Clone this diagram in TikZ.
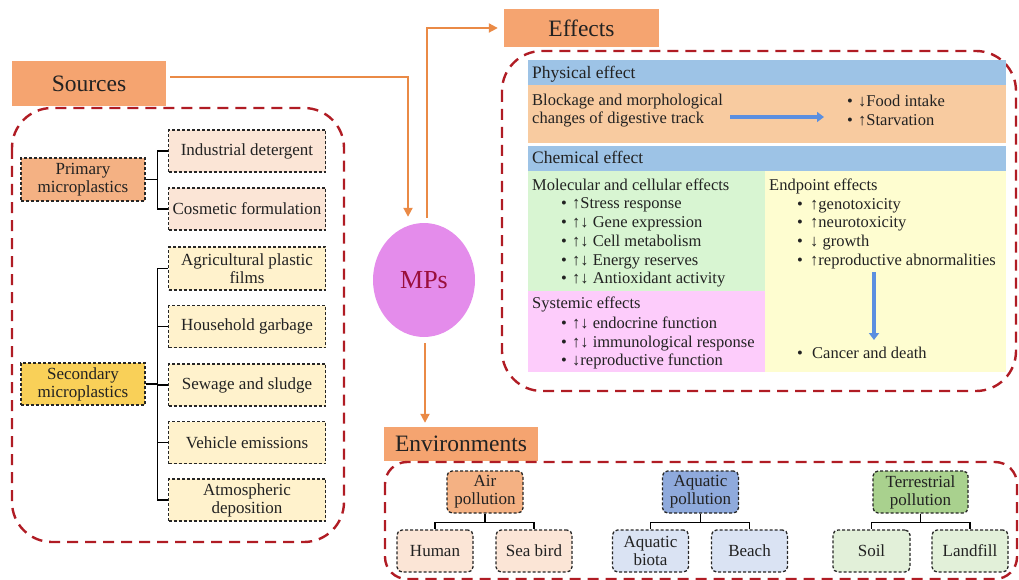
\documentclass[tikz,border=0pt]{standalone}
\usepackage{fontspec}
\setmainfont{Liberation Serif}
\usetikzlibrary{shapes.geometric,arrows.meta,calc}
\definecolor{hdrorange}{HTML}{F5A470}
\definecolor{arrorange}{HTML}{EA8A46}
\definecolor{dashred}{HTML}{B01C24}
\definecolor{primfill}{HTML}{F4B183}
\definecolor{primkid}{HTML}{FBE5D6}
\definecolor{secfill}{HTML}{F9D058}
\definecolor{seckid}{HTML}{FFF2CC}
\definecolor{physblue}{HTML}{9DC3E6}
\definecolor{physorange}{HTML}{F8CBA0}
\definecolor{molgreen}{HTML}{D8F5D2}
\definecolor{syspink}{HTML}{FDCCFB}
\definecolor{endyellow}{HTML}{FEFDD0}
\definecolor{aqfill}{HTML}{8FAADC}
\definecolor{aqkid}{HTML}{DAE3F3}
\definecolor{terfill}{HTML}{A9D18E}
\definecolor{terkid}{HTML}{E2F0D9}
\definecolor{mpsviolet}{HTML}{E48CEB}
\definecolor{mpstext}{HTML}{9A0F3C}
\definecolor{bluearrow}{HTML}{5B8FE0}
\definecolor{textdark}{HTML}{222222}
\newcommand{\bl}[1][11pt]{\makebox[#1][l]{•}}
\begin{document}
\begin{tikzpicture}[x=1pt,y=-1pt,
  hdr/.style={fill=hdrorange, inner sep=0, text=textdark, font=\fontsize{23.5}{26}\selectfont},
  dbox/.style={draw=black!85, dash pattern=on 3pt off 2pt, line width=1.3pt, align=center, inner sep=0, text=textdark, font=\fontsize{17}{18}\selectfont},
  ebox/.style={dbox, rounded corners=5pt, minimum height=42pt},
  rdash/.style={draw=dashred, line width=2.4pt, dash pattern=on 11pt off 7pt, rounded corners=40pt},
  oarrow/.style={draw=arrorange, line width=2pt, -{Triangle[length=9pt,width=9pt]}},
  barrow/.style={draw=bluearrow, line width=4.5pt, -{Triangle[length=7pt,width=10pt]}},
  conn/.style={draw=black, line width=1.5pt},
  txt/.style={anchor=base west, inner sep=0, text=textdark, font=\fontsize{16.5}{18}\selectfont},
  htxt/.style={txt, font=\fontsize{17.5}{19}\selectfont}
]
\useasboundingbox (0,0) rectangle (1019,580);

% ---------- Sources ----------
\node[hdr, minimum width=154pt, minimum height=45pt] (src) at (89,83.5) {Sources};
\draw[rdash] (12,108) rectangle (344,542);

\node[dbox, fill=primfill, minimum width=124pt, minimum height=43pt] (prim) at (83,179.5) {Primary\\microplastics};
\node[dbox, fill=primkid, minimum width=157pt, minimum height=42pt] (ind) at (247,151) {Industrial detergent};
\node[dbox, fill=primkid, minimum width=157pt, minimum height=42pt] (cos) at (247,209) {Cosmetic formulation};
\draw[conn] (prim.east) -- ++(12,0) |- (ind.west);
\draw[conn] (prim.east) -- ++(12,0) |- (cos.west);

\node[dbox, fill=secfill, minimum width=124pt, minimum height=42pt] (sec) at (83,384) {Secondary\\microplastics};
\node[dbox, fill=seckid, minimum width=157pt, minimum height=43pt] (agri) at (247,268.5) {Agricultural plastic\\films};
\node[dbox, fill=seckid, minimum width=157pt, minimum height=42pt] (house) at (247,326.5) {Household garbage};
\node[dbox, fill=seckid, minimum width=157pt, minimum height=42pt] (sew) at (247,385) {Sewage and sludge};
\node[dbox, fill=seckid, minimum width=157pt, minimum height=42pt] (veh) at (247,442.5) {Vehicle emissions};
\node[dbox, fill=seckid, minimum width=157pt, minimum height=42pt] (atm) at (247,500) {Atmospheric\\deposition};
\foreach \k in {agri,house,sew,veh,atm}
  \draw[conn] (sec.east) -- ++(12,0) |- (\k.west);

% ---------- MPs ----------
\node[ellipse, fill=mpsviolet, minimum width=102pt, minimum height=114pt, inner sep=0,
      text=mpstext, font=\fontsize{26}{28}\selectfont] (mps) at (424,280) {MPs};

\node[hdr, minimum width=155pt, minimum height=38pt] (eff) at (581.5,28) {Effects};
\node[hdr, minimum width=154pt, minimum height=34pt] (env) at (461,444) {Environments};

\draw[oarrow] ([xshift=4pt,yshift=6pt]src.east) -| ([xshift=-16pt,yshift=6pt]mps.north);
\draw[oarrow] ([xshift=3pt,yshift=5pt]mps.north) |- ([xshift=-6pt]eff.west);
\draw[oarrow] ([xshift=1pt,yshift=-6pt]mps.south) -- ($(mps.south |- env.north)+(1,-4)$);

% ---------- Effects ----------
\draw[rdash] (502,51) rectangle (1016,391);
\fill[physblue] (528,60) rectangle (1006,85);
\fill[physorange] (528,85) rectangle (1006,143);
\fill[physblue] (528,146) rectangle (1006,171);
\fill[molgreen] (528,171) rectangle (765,291);
\fill[syspink] (528,291) rectangle (765,372);
\fill[endyellow] (765,171) rectangle (1006,372);

\node[htxt] (phys) at (532,79) {Physical effect};
\node[txt] (block1) at (532,105.5) {Blockage and morphological};
\node[txt] (block2) at (532,123.5) {changes of digestive track};
\node[txt] (food) at (847,106.5) {\bl↓Food intake};
\node[txt] (starv) at (847,126) {\bl↑Starvation};
\coordinate (ba1) at (730,117);
\coordinate (ba2) at (824,117);
\draw[barrow] (ba1) -- (ba2);

\node[htxt] (chem) at (532,164) {Chemical effect};
\node[txt] (mol) at (532,190) {Molecular and cellular effects};
\node[txt] (m1) at (561,208.5) {\bl↑Stress response};
\node[txt] (m2) at (561,227.5) {\bl↑↓ Gene expression};
\node[txt] (m3) at (561,246.5) {\bl↑↓ Cell metabolism};
\node[txt] (m4) at (561,265) {\bl↑↓ Energy reserves};
\node[txt] (m5) at (561,283.5) {\bl↑↓ Antioxidant activity};

\node[txt] (sys) at (532,308.5) {Systemic effects};
\node[txt] (s1) at (561,328.5) {\bl↑↓ endocrine function};
\node[txt] (s2) at (561,347.5) {\bl↑↓ immunological response};
\node[txt] (s3) at (561,365.5) {\bl↓reproductive function};

\node[txt] (endp) at (769,190) {Endpoint effects};
\node[txt] (e1) at (797,209) {\bl[13pt]↑genotoxicity};
\node[txt] (e2) at (797,227.5) {\bl[13pt]↑neurotoxicity};
\node[txt] (e3) at (797,246.5) {\bl[13pt]↓ growth};
\node[txt] (e4) at (797,265.5) {\bl[13pt]↑reproductive abnormalities};
\coordinate (bd1) at (874,272);
\coordinate (bd2) at (874,340);
\draw[barrow] (bd1) -- (bd2);
\node[txt] (cancer) at (797,358.5) {\bl[15pt]Cancer and death};

% ---------- Environments ----------
\draw[rdash, rounded corners=22pt] (385,462) rectangle (1017,579);

\node[ebox, fill=primfill, minimum width=76pt] (air) at (485,492) {Air\\pollution};
\node[ebox, fill=primkid, minimum width=76pt] (human) at (435,551) {Human};
\node[ebox, fill=primkid, minimum width=76pt] (bird) at (534,551) {Sea bird};
\draw[conn] (air.south) -- ++(0,9) -| (human.north);
\draw[conn] (air.south) -- ++(0,9) -| (bird.north);

\node[ebox, fill=aqfill, minimum width=76pt] (aqp) at (700.5,492) {Aquatic\\pollution};
\node[ebox, fill=aqkid, minimum width=76pt] (biota) at (650.5,551) {Aquatic\\biota};
\node[ebox, fill=aqkid, minimum width=76pt] (beach) at (749.5,551) {Beach};
\draw[conn] (aqp.south) -- ++(0,9) -| (biota.north);
\draw[conn] (aqp.south) -- ++(0,9) -| (beach.north);

\node[ebox, fill=terfill, minimum width=95pt] (terp) at (920.5,492) {Terrestrial\\pollution};
\node[ebox, fill=terkid, minimum width=77pt] (soil) at (871.5,551) {Soil};
\node[ebox, fill=terkid, minimum width=76pt] (land) at (970,551) {Landfill};
\draw[conn] (terp.south) -- ++(0,9) -| (soil.north);
\draw[conn] (terp.south) -- ++(0,9) -| (land.north);
\end{tikzpicture}
\end{document}
